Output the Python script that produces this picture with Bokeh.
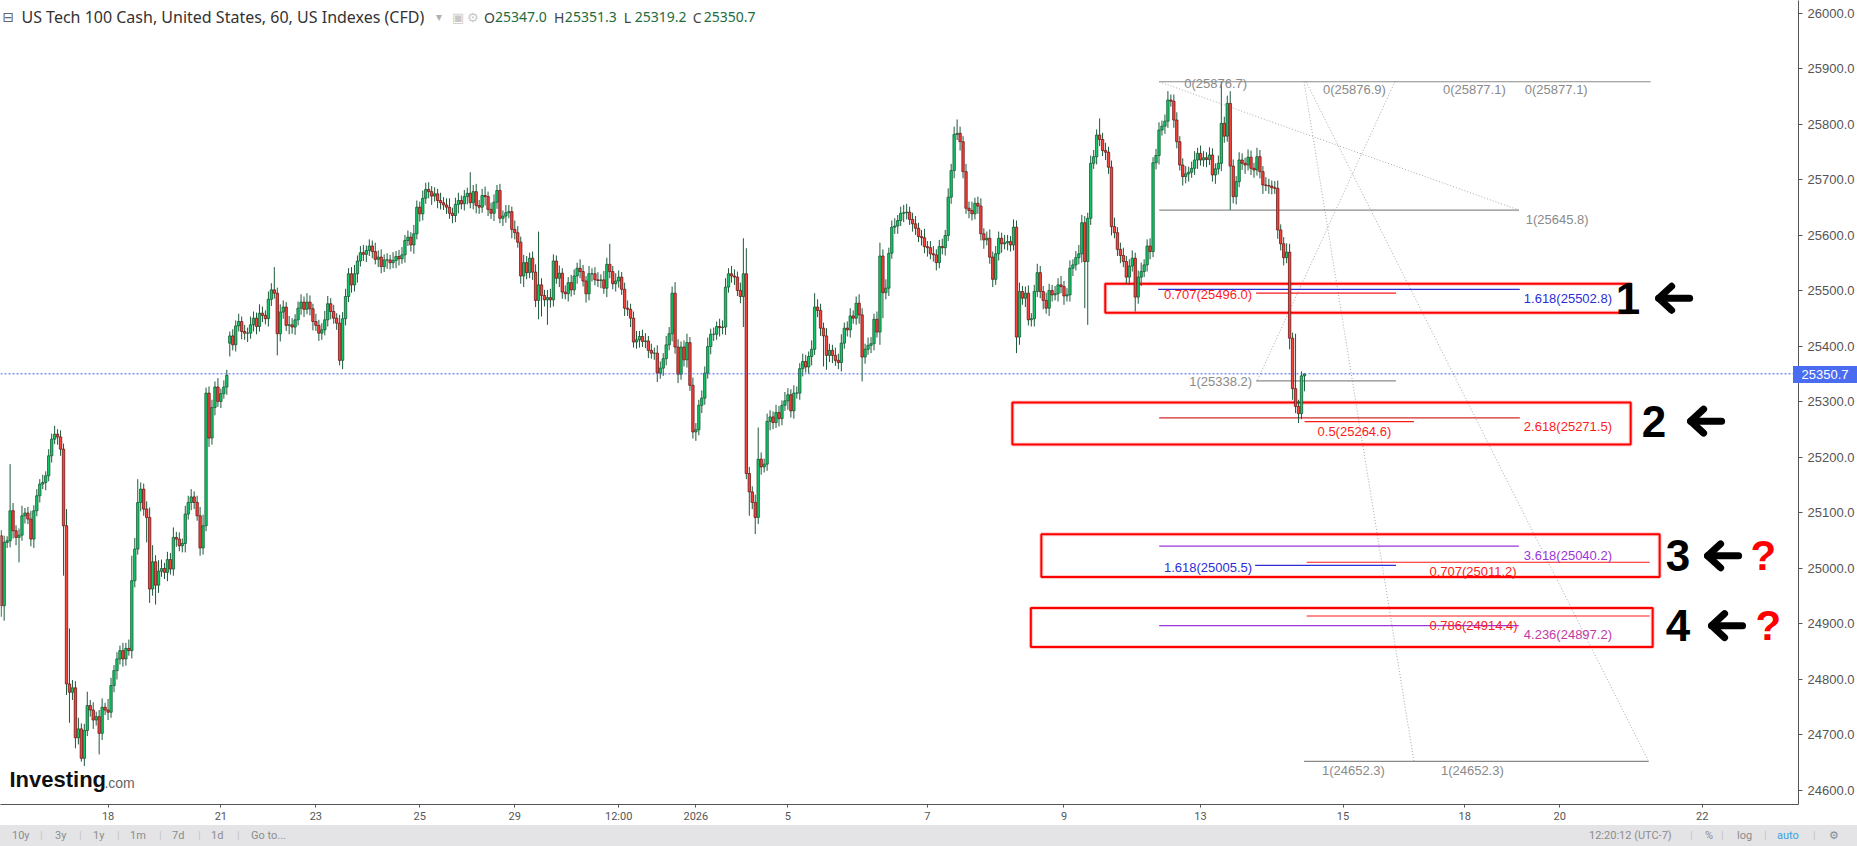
from bokeh.plotting import figure
from bokeh.models import Range1d, FixedTicker, PrintfTickFormatter, Label, Span, Div, ColumnDataSource
from bokeh.layouts import column
from bokeh.core.properties import value
from bokeh.embed import file_html
from bokeh.resources import INLINE

# ---------------- data (hourly candles, US Tech 100 Cash) ----------------
closes = [
    24933, 25047, 25050, 25104, 25068, 25056, 25060, 25095, 25100, 25089,
    25053, 25104, 25131, 25152, 25155, 25167, 25203, 25233, 25242, 25237,
    25215, 25077, 24792, 24777, 24785, 24695, 24711, 24658, 24708, 24753,
    24745, 24727, 24733, 24703, 24750, 24745, 24741, 24789, 24816, 24837,
    24852, 24837, 24856, 24852, 24978, 25035, 25119, 25143, 25107, 25092,
    24963, 25012, 24970, 24995, 25000, 24993, 25016, 24999, 25056, 25053,
    25041, 25045, 25098, 25119, 25129, 25119, 25095, 25037, 25077, 25316,
    25235, 25290, 25327, 25301, 25315, 25327, 25348, 25419, 25403, 25437,
    25445, 25427, 25424, 25424, 25439, 25451, 25436, 25460, 25456, 25450,
    25485, 25502, 25496, 25423, 25462, 25471, 25438, 25439, 25435, 25448,
    25469, 25480, 25467, 25480, 25468, 25445, 25438, 25424, 25430, 25448,
    25477, 25463, 25451, 25442, 25375, 25450, 25490, 25531, 25511, 25531,
    25554, 25569, 25566, 25573, 25581, 25571, 25557, 25561, 25544, 25556,
    25556, 25551, 25555, 25562, 25558, 25565, 25591, 25597, 25583, 25603,
    25651, 25639, 25667, 25683, 25679, 25671, 25675, 25663, 25659, 25655,
    25651, 25640, 25636, 25656, 25663, 25657, 25670, 25676, 25659, 25679,
    25654, 25651, 25672, 25670, 25647, 25640, 25660, 25681, 25631, 25635,
    25641, 25643, 25611, 25605, 25588, 25527, 25551, 25533, 25559, 25534,
    25483, 25511, 25492, 25484, 25488, 25484, 25554, 25523, 25532, 25498,
    25495, 25515, 25502, 25527, 25541, 25535, 25518, 25495, 25531, 25531,
    25520, 25519, 25520, 25505, 25548, 25535, 25513, 25518, 25525, 25503,
    25469, 25467, 25451, 25408, 25412, 25418, 25409, 25410, 25393, 25388,
    25388, 25352, 25361, 25378, 25403, 25423, 25496, 25399, 25350, 25399,
    25376, 25407, 25330, 25246, 25250, 25294, 25307, 25352, 25400, 25422,
    25422, 25436, 25434, 25435, 25507, 25531, 25527, 25525, 25501, 25490,
    25531, 25171, 25138, 25119, 25092, 25197, 25183, 25188, 25265, 25273,
    25263, 25281, 25270, 25294, 25302, 25313, 25284, 25316, 25316, 25360,
    25373, 25363, 25382, 25395, 25471, 25465, 25433, 25419, 25384, 25393,
    25384, 25375, 25371, 25406, 25433, 25430, 25455, 25451, 25478, 25457,
    25381, 25395, 25402, 25405, 25449, 25426, 25563, 25497, 25505, 25568,
    25615, 25617, 25627, 25640, 25641, 25642, 25629, 25621, 25613, 25598,
    25596, 25580, 25578, 25567, 25565, 25551, 25580, 25578, 25600, 25669,
    25717, 25782, 25784, 25769, 25715, 25649, 25645, 25639, 25658, 25653,
    25603, 25592, 25595, 25561, 25521, 25567, 25595, 25585, 25587, 25589,
    25583, 25615, 25417, 25499, 25487, 25496, 25448, 25450, 25499, 25533,
    25499, 25483, 25469, 25501, 25493, 25495, 25511, 25508, 25491, 25493,
    25541, 25547, 25560, 25567, 25623, 25553, 25631, 25730, 25742, 25781,
    25773, 25753, 25750, 25723, 25616, 25605, 25575, 25564, 25553, 25525,
    25545, 25559, 25489, 25525, 25535, 25547, 25581, 25571, 25731, 25744,
    25790, 25797, 25806, 25844, 25842, 25808, 25769, 25727, 25706, 25711,
    25714, 25721, 25736, 25748, 25736, 25740, 25737, 25745, 25709, 25720,
    25730, 25802, 25779, 25838, 25725, 25670, 25697, 25736, 25730, 25727,
    25741, 25721, 25718, 25742, 25715, 25691, 25690, 25689, 25686, 25685,
    25610, 25585, 25560, 25570, 25415, 25324, 25292, 25279, 25347, 25350.7,
]
up_wick = [
    10, 12, 8, 84, 14, 10, 12, 18, 9, 11, 15, 10, 12, 9, 14, 8, 12, 10, 15, 9,
    12, 10, 30, 100, 14, 12, 20, 10, 12, 25, 10, 14, 9, 12, 16, 8, 20, 14, 10, 12,
    9, 14, 10, 16, 45, 20, 42, 12, 10, 14, 18, 30, 12, 20, 16, 10, 14, 12, 18, 10,
    12, 9, 15, 12, 14, 10, 12, 16, 20, 10, 12, 14, 10, 16, 9, 12, 10, 8, 12, 10,
    14, 9, 12, 10, 15, 12, 10, 16, 12, 9, 14, 12, 41, 10, 14, 12, 9, 16, 12, 10,
    12, 14, 10, 16, 12, 9, 14, 10, 12, 16, 14, 10, 12, 9, 15, 12, 14, 10, 12, 16,
    10, 12, 14, 9, 12, 10, 16, 12, 14, 10, 12, 9, 15, 10, 12, 14, 10, 12, 9, 16,
    12, 10, 14, 12, 13, 10, 12, 9, 14, 10, 12, 16, 10, 12, 14, 9, 12, 10, 38, 12,
    14, 10, 12, 16, 9, 12, 14, 10, 12, 10, 14, 12, 9, 16, 12, 10, 14, 12, 10, 12,
    14, 96, 12, 10, 14, 16, 12, 10, 14, 9, 12, 10, 14, 12, 10, 16, 12, 9, 14, 10,
    12, 14, 10, 16, 12, 37, 10, 14, 12, 9, 12, 14, 10, 12, 16, 10, 12, 14, 9, 12,
    10, 14, 12, 10, 16, 12, 12, 20, 14, 10, 12, 16, 10, 14, 12, 10, 14, 12, 16, 10,
    12, 9, 14, 12, 16, 10, 14, 12, 10, 14, 64, 46, 12, 10, 14, 57, 12, 10, 14, 12,
    10, 14, 12, 9, 16, 12, 10, 14, 12, 10, 14, 12, 9, 16, 25, 14, 12, 10, 14, 12,
    10, 14, 12, 16, 10, 12, 14, 10, 12, 16, 12, 10, 14, 12, 10, 14, 24, 12, 16, 10,
    12, 14, 10, 12, 14, 15, 10, 12, 14, 10, 12, 16, 10, 12, 14, 10, 12, 14, 10, 16,
    12, 14, 25, 12, 10, 14, 12, 16, 10, 12, 14, 10, 12, 16, 10, 14, 12, 10, 14, 12,
    10, 14, 12, 16, 10, 12, 14, 10, 12, 16, 12, 10, 14, 12, 10, 14, 12, 16, 10, 12,
    14, 10, 12, 16, 14, 12, 10, 14, 12, 10, 30, 12, 14, 10, 12, 16, 10, 12, 14, 10,
    12, 14, 10, 12, 16, 10, 12, 14, 10, 12, 14, 10, 12, 16, 10, 12, 14, 10, 12, 14,
    10, 12, 16, 10, 14, 12, 10, 14, 12, 10, 14, 75, 12, 14, 22, 12, 10, 14, 12, 10,
    14, 12, 10, 16, 12, 10, 14, 12, 10, 12, 14, 10, 12, 16, 15, 10, 99, 12, 8, 0.6,
]
dn_wick = [
    20, 27, 10, 12, 14, 14, 45, 10, 14, 9, 13, 16, 10, 12, 9, 14, 10, 12, 9, 14,
    12, 90, 20, 55, 14, 19, 12, 6, 14, 10, 12, 16, 10, 38, 12, 9, 14, 10, 12, 16,
    10, 14, 12, 9, 14, 12, 10, 16, 12, 45, 25, 12, 35, 14, 10, 12, 16, 10, 12, 14,
    10, 12, 16, 10, 14, 12, 9, 14, 12, 10, 16, 12, 14, 10, 12, 9, 14, 24, 10, 12,
    10, 14, 12, 16, 10, 12, 14, 9, 12, 10, 14, 12, 10, 39, 14, 12, 10, 16, 12, 14,
    10, 12, 14, 9, 12, 16, 10, 14, 12, 10, 12, 14, 10, 12, 9, 16, 12, 10, 14, 12,
    16, 10, 12, 14, 10, 12, 9, 14, 12, 10, 16, 12, 10, 14, 12, 9, 14, 10, 12, 16,
    10, 14, 12, 10, 12, 16, 10, 14, 12, 9, 12, 10, 14, 12, 16, 10, 12, 14, 10, 12,
    14, 12, 10, 16, 12, 10, 14, 12, 9, 14, 12, 10, 16, 12, 10, 14, 20, 12, 10, 14,
    12, 34, 38, 12, 45, 14, 12, 10, 16, 12, 10, 14, 12, 9, 14, 12, 10, 16, 12, 14,
    10, 12, 14, 10, 16, 12, 10, 14, 12, 10, 14, 12, 16, 10, 12, 14, 10, 12, 14, 10,
    12, 16, 10, 14, 12, 10, 14, 12, 16, 10, 12, 14, 10, 12, 16, 10, 14, 12, 10, 14,
    12, 10, 16, 12, 14, 10, 12, 14, 10, 12, 55, 10, 43, 12, 30, 12, 14, 10, 12, 16,
    12, 10, 14, 12, 10, 16, 12, 14, 10, 12, 14, 10, 12, 16, 10, 12, 14, 55, 26, 12,
    14, 10, 12, 16, 10, 12, 14, 10, 12, 16, 44, 12, 10, 14, 12, 10, 23, 46, 12, 14,
    10, 12, 14, 10, 16, 12, 10, 14, 12, 10, 14, 12, 16, 10, 12, 14, 10, 12, 14, 10,
    12, 14, 10, 16, 12, 10, 14, 12, 10, 14, 12, 16, 10, 12, 14, 10, 12, 16, 10, 14,
    12, 10, 29, 14, 12, 16, 10, 12, 14, 10, 12, 16, 10, 14, 12, 10, 14, 12, 16, 10,
    12, 14, 10, 12, 16, 84, 114, 12, 10, 14, 12, 10, 14, 12, 16, 10, 12, 14, 10, 12,
    14, 10, 26, 12, 16, 10, 12, 14, 10, 12, 16, 10, 14, 12, 10, 14, 12, 10, 16, 12,
    14, 10, 12, 16, 10, 12, 14, 10, 12, 16, 10, 14, 12, 10, 79, 12, 14, 10, 12, 16,
    10, 12, 14, 10, 12, 16, 10, 14, 12, 10, 16, 12, 14, 10, 20, 20, 12, 17, 10, 27.8,
]
first_open = 25059.0
gap_opens = {77: 25406.0}          # weekend gap (Sunday open)
last_price = 25350.7
ohlc_names = ["O", "H", "L", "C"]
ohlc_values = ["25347.0", "25351.3", "25319.2", "25350.7"]

y_ticks = list(range(24600, 26001, 100))
x_tick_idx = [36, 74, 106, 141, 173, 208, 234, 265, 312, 358, 404, 452, 493, 525, 573]
x_tick_labels = ["18", "21", "23", "25", "29", "12:00", "2026", "5", "7", "9",
                 "13", "15", "18", "20", "22"]

# Fibonacci levels drawn on the chart (price values as labelled)
fib_text = ["0(25876.7)", "0(25876.9)", "0(25877.1)", "0(25877.1)", "1(25645.8)",
            "0.707(25496.0)", "1.618(25502.8)", "1(25338.2)", "2.618(25271.5)",
            "0.5(25264.6)", "3.618(25040.2)", "1.618(25005.5)", "0.707(25011.2)",
            "0.786(24914.4)", "4.236(24897.2)", "1(24652.3)", "1(24652.3)"]
fib_price = [25876.7, 25876.9, 25877.1, 25877.1, 25645.8,
             25496.0, 25502.8, 25338.2, 25271.5,
             25264.6, 25040.2, 25005.5, 25011.2,
             24914.4, 24897.2, 24652.3, 24652.3]

# ---------------- geometry helpers (reference pixels -> data) ----------------
PX0, PXS = 0.7, 2.972
def ix(px):
    return (px - PX0) / PXS
Y0, YS = 13.0, 0.5564
def iy(py):
    return 26000.0 - (py - Y0) / YS
def py_of(price):
    return Y0 + (26000.0 - price) * YS

n = min(len(closes), len(up_wick), len(dn_wick))
closes = closes[:n]
opens = [first_open] + closes[:-1]
for k, v in gap_opens.items():
    if k < n:
        opens[k] = v
highs = [max(o, c) + u for o, c, u in zip(opens, closes, up_wick)]
lows = [min(o, c) - d for o, c, d in zip(opens, closes, dn_wick)]
xs = list(range(n))
up = [c >= o for o, c in zip(opens, closes)]

src_w = ColumnDataSource(dict(x=xs, h=highs, l=lows))
src_up = ColumnDataSource(dict(x=[x for x, u in zip(xs, up) if u],
                               t=[max(o, c) for o, c, u in zip(opens, closes, up) if u],
                               b=[min(o, c) for o, c, u in zip(opens, closes, up) if u]))
src_dn = ColumnDataSource(dict(x=[x for x, u in zip(xs, up) if not u],
                               t=[max(o, c) for o, c, u in zip(opens, closes, up) if not u],
                               b=[min(o, c) for o, c, u in zip(opens, closes, up) if not u]))

W, H, BAR = 1857, 825, 21
p = figure(width=W, height=H, x_range=Range1d(ix(0), ix(1800)), y_range=Range1d(iy(806), iy(0)),
           y_axis_location="right", output_backend="svg", toolbar_location=None,
           min_border_left=0, min_border_top=0, min_border_right=57, min_border_bottom=19,
           background_fill_color="white", border_fill_color="white", outline_line_color=None)
p.xgrid.visible = False
p.ygrid.visible = False

# axes
p.yaxis.ticker = FixedTicker(ticks=y_ticks)
p.yaxis.formatter = PrintfTickFormatter(format="%.1f")
p.xaxis.ticker = FixedTicker(ticks=x_tick_idx)
p.xaxis.major_label_overrides = {t: s for t, s in zip(x_tick_idx, x_tick_labels)}
for ax in (p.xaxis, p.yaxis):
    ax.axis_line_color = "#555555"
    ax.major_tick_line_color = "#555555"
    ax.minor_tick_line_color = None
    ax.major_tick_in = 0
    ax.major_label_text_color = "#555555"
p.yaxis.major_label_text_font = "Liberation Sans"
p.yaxis.major_label_text_font_size = "13px"
p.xaxis.major_label_text_font = "Roboto"
p.xaxis.major_label_text_font_size = "11px"
p.yaxis.major_tick_out = 4
p.yaxis.major_label_standoff = 5
p.xaxis.major_tick_out = 3
p.xaxis.major_label_standoff = 2

# current price line
p.add_layout(Span(location=last_price, dimension="width", line_color="#3d5fe0",
                  line_dash="2 2", line_width=1))

# ---------------- fibonacci drawings ----------------
GRAY, RED, DRED, BLUE, PURP = "#8a8a8a", "#ff1a1a", "#d42a2a", "#2d2dd6", "#9b35d8"
dots = [((1160, 25877.0), (1520, 25645.8)), ((1305, 25877.0), (1415, 24652.3)),
        ((1307, 25877.0), (1650, 24652.3)), ((1396, 25877.0), (1258, 25338.2))]
p.segment(x0=[ix(a[0]) for a, b in dots], y0=[a[1] for a, b in dots],
          x1=[ix(b[0]) for a, b in dots], y1=[b[1] for a, b in dots],
          line_color="#a8a8a8", line_dash="1 2", line_width=1)

seg_level = [25877.0, 25645.8, 25502.8, 25496.0, 25338.2, 25271.5, 25264.6,
             25040.2, 25011.2, 25005.5, 24914.4, 24897.2, 24652.3]
seg_px = [(1160, 1652), (1160, 1520), (1159, 1521), (1257, 1397), (1257, 1397), (1160, 1521),
          (1305.5, 1415), (1160, 1520), (1307.6, 1651), (1256, 1397), (1307.6, 1651),
          (1160, 1520), (1305, 1650)]
seg_col = [GRAY, GRAY, BLUE, RED, GRAY, DRED, RED, PURP, RED, BLUE, RED, PURP, GRAY]
p.segment(x0=[ix(a) for a, b in seg_px], y0=seg_level, x1=[ix(b) for a, b in seg_px],
          y1=seg_level, line_color=seg_col, line_width=1.2)

# red zone boxes
box_px = [(1106, 1632, 284, 313), (1013, 1632, 403, 445), (1042, 1661, 535, 578),
          (1031.5, 1654, 609, 648)]
bl = [ix(b[0]) for b in box_px]; br = [ix(b[1]) for b in box_px]
bt = [iy(b[2]) for b in box_px]; bb = [iy(b[3]) for b in box_px]
p.quad(left=bl, right=br, top=bt, bottom=bb, fill_alpha=0, line_color="#ff6666",
       line_width=4, line_alpha=0.35)
p.quad(left=bl, right=br, top=bt, bottom=bb, fill_alpha=0, line_color="#ff0000", line_width=2)

# ---------------- candles ----------------
p.segment(x0="x", y0="l", x1="x", y1="h", source=src_w, line_color="#1d5a3a", line_width=1)
p.vbar(x="x", width=0.8, top="t", bottom="b", source=src_up, fill_color="#0fc866",
       line_color="#165c36", line_width=0.8)
p.vbar(x="x", width=0.8, top="t", bottom="b", source=src_dn, fill_color="#f4443c",
       line_color="#6e1818", line_width=0.8)

# fib labels
lab_px = [1185, 1324, 1444, 1526, 1527, 1253, 1525, 1253, 1525, 1318.5, 1525, 1253,
          1430.5, 1430.5, 1525, 1323, 1442]
lab_off = [2, 8, 8, 8, 9, 1, 9, 1, 9, 10, 9.5, 2.5, 9.5, 9.5, 8.5, 9, 9]
lab_align = ["left"] * 5 + ["right", "left", "right", "left", "left", "left", "right",
                            "left", "left", "left", "left", "left"]
lab_col = [GRAY, GRAY, GRAY, GRAY, GRAY, RED, BLUE, GRAY, RED, RED, PURP, BLUE, RED, RED,
           "#c23aa6", GRAY, GRAY]
src_lab = ColumnDataSource(dict(x=[ix(v) for v in lab_px], y=fib_price, t=fib_text,
                                yo=lab_off, a=lab_align, c=lab_col))
p.text(x="x", y="y", text="t", y_offset="yo", text_align="a", text_color="c", source=src_lab,
       text_baseline="middle", text_font=value("Liberation Sans"), text_font_size=value("13px"))

# zone markers: numbers, heavy arrows, question marks
mk_y = [iy(298.5), iy(421.7), iy(556.7), iy(626.7)]
mk_src = ColumnDataSource(dict(x=[ix(1617), ix(1643), ix(1667), ix(1667)], y=mk_y,
                               t=["1", "2", "3", "4"]))
p.text(x="x", y="y", text="t", source=mk_src, text_baseline="middle", text_align="left",
       text_color="black", text_font=value("Liberation Sans"), text_font_style="bold",
       text_font_size=value("44px"))
arrow_px = [(1660, 298.5), (1692, 421.7), (1709, 556.7), (1713, 626.7)]
arr_xs, arr_ys = [], []
for ax0, ay0 in arrow_px:
    arr_xs.append([ix(ax0 + 13), ix(ax0), ix(ax0 + 13)])
    arr_ys.append([iy(ay0 - 12), iy(ay0), iy(ay0 + 12)])
    arr_xs.append([ix(ax0), ix(ax0 + 31)])
    arr_ys.append([iy(ay0), iy(ay0)])
p.multi_line(xs=arr_xs, ys=arr_ys, line_color="black", line_width=7,
             line_cap="round", line_join="round")
q_src = ColumnDataSource(dict(x=[ix(1752), ix(1757)], y=[iy(556.7), iy(626.7)], t=["?", "?"]))
p.text(x="x", y="y", text="t", source=q_src, text_baseline="middle", text_align="left",
       text_color="#ff0000", text_font=value("Liberation Sans"), text_font_style="bold",
       text_font_size=value("42px"))

# header
def hdr(x, text, color, size="16px", font="Noto Sans", style="normal", yy=17):
    p.add_layout(Label(x=ix(x), y=iy(yy), text=text, text_color=color, text_font=font,
                       text_font_size=size, text_font_style=style, text_baseline="middle"))
hdr(2, "\u229f", "#666666", size="14px", font="DejaVu Sans")
hdr(21, "US Tech 100 Cash, United States, 60, US Indexes (CFD)", "#333333")
hdr(436, "\u25be", "#b0b0b0", size="12px", font="DejaVu Sans")
hdr(452, "\u25a3", "#c8c8c8", size="13px", font="DejaVu Sans")
hdr(467, "\u2699", "#c8c8c8", size="13px", font="DejaVu Sans")
ohlc_x = [484, 554, 624, 693]
for xx, nm, vv in zip(ohlc_x, ohlc_names, ohlc_values):
    hdr(xx, nm, "#444444", size="14px")
    hdr(xx + 11, vv, "#1e6b3e", size="14px")

# logo
hdr(9, "Investing", "#111111", size="22px", font="Liberation Sans", style="bold", yy=781)
hdr(104, ".com", "#666666", size="14px", font="Liberation Sans", yy=784)

# ---------------- bottom bar (with last-price tag on the price scale) ----------------
left_items = [("10y", 12), ("|", 40), ("3y", 55), ("|", 79), ("1y", 93), ("|", 117), ("1m", 130),
              ("|", 159), ("7d", 172), ("|", 198), ("1d", 211), ("|", 237), ("Go to...", 251)]
right_items = [("12:20:12 (UTC-7)", 1589), ("|", 1690), ("%", 1705), ("|", 1721), ("log", 1737),
               ("|", 1764), ("auto", 1777), ("|", 1813), ("\u2699", 1829)]
spans = []
for t, l in left_items + right_items:
    col = "#c4c4c4" if t == "|" else ("#3aa0e0" if t == "auto" else "#8c8c8c")
    spans.append(f'<span style="position:absolute;left:{l}px;top:4px;color:{col};'
                 f'white-space:nowrap">{t}</span>')
tag_top = round(py_of(last_price) - 8.5 - H)
spans.append(f'<span style="position:absolute;left:1793px;top:{tag_top}px;width:64px;height:17px;'
             f'background:#4a6cf0;color:#ffffff;font-family:\'Liberation Sans\',Arial,sans-serif;'
             f'font-size:13px;line-height:17px;text-align:center;z-index:10">{last_price:.1f}</span>')
bar_html = (f'<div style="position:relative;width:{W}px;height:{BAR}px;font-family:Roboto,sans-serif;'
            'font-size:11px;line-height:13px;overflow:visible;">' + "".join(spans) + "</div>")
bar = Div(text=bar_html, width=W, height=BAR, margin=0,
          styles={"background-color": "#e4e4e7", "overflow": "visible", "z-index": "5"})

layout = column(p, bar, spacing=0)
open("out.html", "w").write(file_html(layout, INLINE))
